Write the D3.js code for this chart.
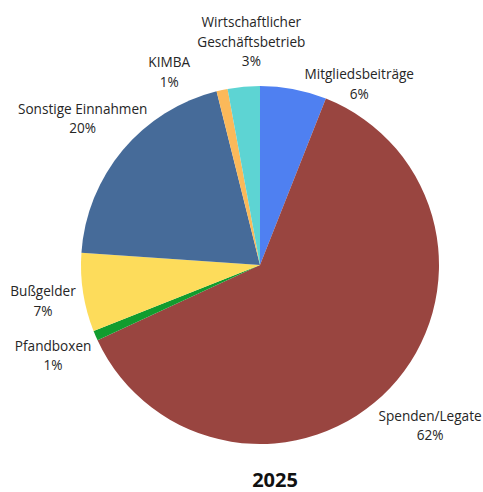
<!DOCTYPE html>
<html lang="de">
    <head>
        <meta charset="utf-8">
        <title>Einnahmen 2025</title>
        <script src="https://cdn.jsdelivr.net/npm/d3@7"></script>
        <style>
            body { margin: 0; background: #fff; }
            .label { font-family: "Open Sans", sans-serif; font-size: 13.6px; fill: #262626; }
            .title { font-family: "Open Sans", sans-serif; font-size: 20px; font-weight: bold; fill: #111; }
        </style>
    </head>
    <body>
        <script>

		var categories = ["Mitgliedsbeiträge", "Spenden/Legate", "Pfandboxen", "Bußgelder", "Sonstige Einnahmen", "KIMBA", "Wirtschaftlicher Geschäftsbetrieb"];
		var values = [6.0, 62.1, 0.9, 7.1, 20.0, 1.0, 2.9];
		var colors = ["#4f80f1", "#994540", "#119c2e", "#fddc5b", "#466b99", "#fbb95a", "#5dd4d3"];
		var year = "2025";

		var width = 483, height = 492;
		var cx = 260, cy = 265, radius = 179;

		// label tweaks: angle shift (deg) and distance beyond the rim
		var labelLayout = {
			"Mitgliedsbeiträge": {shift: 18, gap: 27},
			"Spenden/Legate": {shift: 0, gap: 55},
			"Pfandboxen": {shift: -0.5, gap: 47},
			"Bußgelder": {shift: -0.7, gap: 41},
			"Sonstige Einnahmen": {shift: -0.4, gap: 51},
			"KIMBA": {shift: -13, gap: 34},
			"Wirtschaftlicher Geschäftsbetrieb": {shift: 3, gap: 44}
		};

		var data = categories.map(function(c, i) {
			return {name: c, value: values[i], color: colors[i]};
		});

		var svg = d3.select("body").append("svg")
			.attr("width", width)
			.attr("height", height);

		var g = svg.append("g").attr("transform", "translate(" + cx + "," + cy + ")");

		var pie = d3.pie().sort(null).value(function(d) {return d.value;});
		var arc = d3.arc().innerRadius(0).outerRadius(radius);
		var arcs = pie(data);

		g.selectAll(".slice").data(arcs)
			.enter()
			.append("path")
				.attr("class", "slice")
				.attr("d", arc)
				.attr("fill", function(d) {return d.data.color;});

		// split long names into two lines
		function lines(d) {
			var name = d.data.name;
			var out = name.length > 24 ? name.split(" ") : [name];
			out.push(Math.round(d.data.value) + "%");
			return out;
		}

		var lineHeight = 19.5;

		var labels = g.selectAll(".label").data(arcs)
			.enter()
			.append("text")
				.attr("class", "label")
				.attr("text-anchor", "middle")
				.attr("transform", function(d) {
					var lay = labelLayout[d.data.name];
					var a = (d.startAngle + d.endAngle) / 2 + lay.shift * Math.PI / 180;
					var r = radius + lay.gap;
					return "translate(" + (r * Math.sin(a)) + "," + (-r * Math.cos(a)) + ")";
				});

		labels.each(function(d) {
			var ls = lines(d);
			var t = d3.select(this);
			ls.forEach(function(l, i) {
				t.append("tspan")
					.attr("x", 0)
					.attr("y", (i - (ls.length - 1) / 2) * lineHeight)
					.attr("dy", "0.35em")
					.text(l);
			});
		});

		//title
		svg.append("text")
			.attr("class", "title")
			.attr("x", 275)
			.attr("y", 487)
			.attr("text-anchor", "middle")
			.text(year);

        </script>
    </body>
</html>
